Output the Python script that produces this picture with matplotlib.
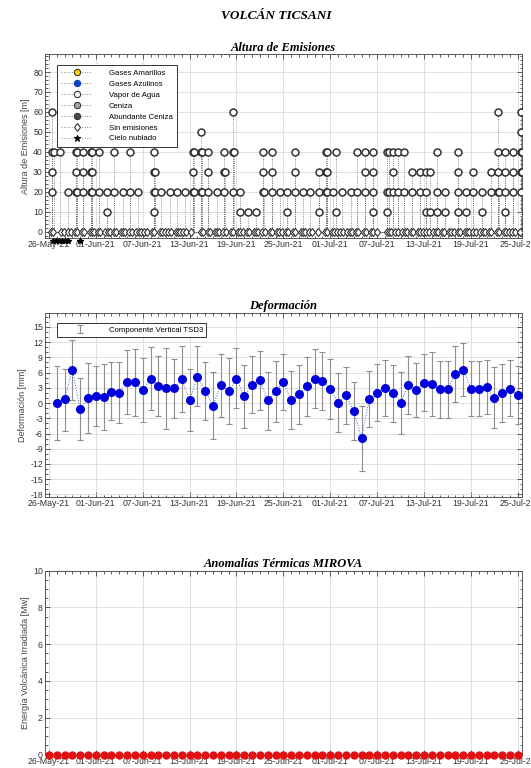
import matplotlib
matplotlib.use('Agg')
from matplotlib import pyplot as plt
from matplotlib.lines import Line2D
from matplotlib.legend_handler import HandlerLine2D
from matplotlib.ticker import MultipleLocator
import matplotlib.dates as mdates
import numpy as np
import pandas as pd

plt.rcParams['font.family'] = ['Liberation Sans', 'DejaVu Sans']
plt.rcParams['axes.unicode_minus'] = False

############ DATOS ############
inicio = pd.Timestamp('2021-05-26')
fechas_ticks = ['2021-05-26', '2021-06-01', '2021-06-07', '2021-06-13', '2021-06-19', '2021-06-25',
                '2021-07-01', '2021-07-07', '2021-07-13', '2021-07-19', '2021-07-25']

# Altura de emisiones: dias desde 26-May (con fraccion horaria) y alturas observadas ese momento
dias_emision = [0.45, 1.43, 2.41, 3.43, 4.42, 5.35, 6.42, 7.4, 8.38, 9.45, 10.42, 11.4, 13.4, 14.4,
                15.5, 16.4, 17.4, 18.4, 19.5, 20.4, 21.5, 22.4, 23.5, 24.45, 25.5, 26.5, 27.4, 28.5,
                29.6, 30.5, 31.5, 32.5, 33.4, 34.5, 35.4, 36.4, 36.7, 37.45, 38.6, 39.45, 40.4, 41.4,
                43.3, 44.05, 44.7, 45.4, 46.4, 47.5, 48.3, 48.8, 49.6, 50.7, 52.4, 53.4, 54.3, 55.4,
                56.6, 57.4, 58.4, 59.4, 60.4]
alturas_emision = [[60, 40, 40, 30, 20], [40], [20], [40, 40, 30, 20, 20], [40, 30, 20],
                   [40, 40, 30, 30, 20, 20], [40, 20], [20, 10], [40, 20], [20], [40, 20], [20],
                   [40, 30, 30, 20, 20, 10], [20], [20], [20], [20], [40, 40, 30, 20, 20],
                   [50, 40, 40, 20, 20], [40, 30, 20], [20], [40, 30, 30, 20], [60, 40, 40, 20],
                   [20, 10], [10], [10], [40, 30, 20, 20], [40, 30, 20], [20], [20, 10], [40, 30, 20],
                   [20], [20], [30, 20, 10], [40, 40, 30, 30, 20, 20], [20], [40, 10], [20], [20],
                   [40, 20], [40, 30, 20], [40, 30, 20, 10], [40, 40, 20, 20, 10], [40, 30, 20],
                   [40, 20], [40, 20], [30, 20], [30, 20], [30, 20, 10], [30, 10], [40, 20, 10],
                   [20, 10], [40, 30, 20, 10], [20, 10], [30, 20], [20, 10], [30, 20],
                   [60, 40, 30, 20, 20], [40, 30, 20, 10], [40, 30, 20], [60, 50, 40, 40, 30, 30, 20]]
dias_sin_emision = [0.3, 0.5, 1.5, 1.9, 2.4, 2.8, 3.3, 3.6, 4.2, 4.5, 5.2, 5.5, 5.8, 6.3, 6.6, 7.2,
                    7.5, 7.8, 8.3, 8.6, 9.2, 9.5, 9.8, 10.3, 10.6, 11.2, 11.5, 11.8, 12.2, 12.6, 13.2,
                    13.5, 14.2, 14.5, 14.8, 15.3, 15.6, 16.2, 16.5, 16.8, 17.2, 17.5, 18.2, 19.4, 19.7,
                    20.3, 20.6, 21.2, 21.5, 21.8, 22.3, 22.6, 23.3, 23.6, 24.2, 24.5, 24.8, 25.3, 25.6,
                    26.2, 26.5, 26.8, 27.3, 27.6, 28.3, 28.6, 29.2, 29.5, 29.8, 30.3, 30.6, 31.2, 31.5,
                    32.2, 32.5, 32.8, 33.3, 33.6, 34.4, 35.3, 35.6, 36.2, 36.5, 36.8, 37.3, 37.6, 38.2,
                    38.5, 38.8, 39.3, 39.6, 40.3, 40.6, 41.2, 41.5, 42.0, 43.2, 43.5, 43.8, 44.3, 44.6,
                    45.2, 45.5, 45.8, 46.3, 46.6, 47.2, 47.5, 47.8, 48.3, 48.6, 49.2, 49.5, 49.8, 50.3,
                    50.6, 51.2, 51.5, 51.8, 52.3, 52.6, 53.2, 53.5, 53.8, 54.3, 54.6, 55.2, 55.5, 55.8,
                    56.3, 56.6, 57.3, 57.6, 58.2, 58.5, 58.8, 59.3, 59.6, 60.3]
dias_nublado = [0.55, 0.9, 1.3, 1.65, 2.05, 2.45, 3.95]

# Deformacion (componente vertical TSD3) y extremos de la barra de error
deformacion = [0.0, 0.8, 6.5, -1.2, 1.0, 1.4, 1.1, 2.2, 2.0, 4.1, 4.1, 2.5, 4.8, 3.4, 2.9, 2.9,
               4.7, 0.5, 5.2, 2.4, -0.5, 3.5, 2.3, 4.8, 1.3, 3.6, 4.5, 0.5, 2.3, 4.1, 0.5, 1.7,
               3.3, 4.8, 4.4, 2.8, 0.1, 1.5, -1.6, -6.9, 0.8, 2.0, 3.0, 2.0, 0.1, 3.6, 2.5, 4.0,
               3.7, 2.7, 2.7, 5.7, 6.6, 2.8, 2.8, 3.2, 0.9, 2.0, 2.8, 1.5]
def_max = [7.3, 6.8, 12.5, 5.0, 7.8, 7.2, 7.6, 8.0, 8.0, 10.5, 10.7, 8.8, 11.1, 9.2, 10.9, 8.7,
           11.2, 6.7, 11.2, 8.1, 6.2, 9.7, 8.8, 10.9, 7.4, 9.3, 10.3, 6.2, 8.2, 9.7, 6.3, 7.5,
           9.0, 10.6, 10.1, 8.7, 5.9, 7.1, 4.1, -0.5, 6.3, 7.7, 8.5, 7.5, 6.2, 9.2, 7.9, 9.6,
           10.0, 8.3, 8.3, 11.2, 11.8, 8.3, 8.3, 8.5, 7.0, 7.7, 8.4, 7.2]
def_min = [-7.2, -5.5, 0.5, -7.3, -5.9, -4.5, -5.4, -3.4, -4.0, -2.1, -2.5, -3.8, -1.3, -2.5, -5.1,
           -3.0, -1.7, -5.6, -0.6, -3.3, -7.1, -2.7, -4.2, -1.0, -4.9, -2.0, -1.4, -5.3, -3.7, -1.4,
           -5.2, -4.1, -2.5, -1.0, -1.4, -3.2, -5.7, -4.1, -7.2, -13.3, -4.8, -3.6, -2.6, -3.7, -6.1,
           -2.1, -2.7, -1.6, -2.5, -2.9, -2.9, 0.3, 1.4, -2.5, -2.5, -2.2, -5.0, -3.7, -2.6, -4.2]
fechas_def = pd.date_range('2021-05-27', '2021-07-25', freq='D')

# MIROVA: energia volcanica irradiada diaria
fechas_mirova = pd.date_range('2021-05-26', '2021-07-25', freq='D')
energia_mirova = [0, 0, 0, 0, 0, 0, 0, 0, 0, 0, 0, 0, 0, 0, 0, 0, 0, 0, 0, 0, 0, 0, 0, 0, 0, 0, 0, 0, 0, 0, 0,
                  0, 0, 0, 0, 0, 0, 0, 0, 0, 0, 0, 0, 0, 0, 0, 0, 0, 0, 0, 0, 0, 0, 0, 0, 0, 0, 0, 0, 0, 0]
################################


x0 = mdates.date2num(inicio)


class MarcadorFinal(HandlerLine2D):
    # marcador al final de la linea, como en la leyenda original
    def get_xdata(self, legend, xdescent, ydescent, width, height, fontsize):
        return [-xdescent, -xdescent + width], [-xdescent + width]


def estilo_eje(ax, ylim, ymayor, ymenor, ylabel):
    ax.set_xlim(x0 - 0.5, x0 + 60.5)
    ax.set_ylim(*ylim)
    ax.yaxis.set_major_locator(MultipleLocator(ymayor))
    ax.yaxis.set_minor_locator(MultipleLocator(ymenor))
    ax.set_xticks(mdates.date2num(pd.to_datetime(fechas_ticks)))
    ax.xaxis.set_major_formatter(mdates.DateFormatter('%d-%b-%y'))
    ax.xaxis.set_minor_locator(mdates.DayLocator())
    ax.tick_params(which='both', direction='in', top=True, right=True, labelsize=6.3,
                   colors='#444444', width=0.6, pad=1.5)
    ax.tick_params(which='major', length=3.5)
    ax.tick_params(which='minor', length=1.8)
    for lab in ax.get_xticklabels() + ax.get_yticklabels():
        lab.set_color('#333333')
    ax.grid(True, which='major', color='#dcdcdc', lw=0.6)
    ax.set_axisbelow(True)
    for s in ax.spines.values():
        s.set_color('#555555')
        s.set_linewidth(0.7)
    ax.set_ylabel(ylabel, fontsize=6.5, color='#444444', labelpad=2)


def titulo(ax, texto):
    ax.set_title(texto, fontsize=9, fontweight='bold', style='italic',
                 family='Liberation Serif', pad=2.5)


fig = plt.figure(figsize=(5.31, 7.68), dpi=100)
fig.text(0.52, 0.979, 'VOLCÁN TICSANI', ha='center', va='center', fontsize=9.5,
         fontweight='bold', style='italic', family='Liberation Serif')

ax1 = fig.add_axes([0.0847, 0.690, 0.898, 0.2396])
ax2 = fig.add_axes([0.0847, 0.3529, 0.898, 0.240])
ax3 = fig.add_axes([0.0847, 0.0175, 0.898, 0.2396])

############ ALTURA DE EMISIONES ############
xs, ys = [], []
for d, hs in zip(dias_emision, alturas_emision):
    vistos = []
    for h in hs:
        dx = 0.15 if h in vistos else 0.0  # repetidos quedan un poco corridos
        vistos.append(h)
        xs.append(x0 + d + dx)
        ys.append(h)
        ax1.plot([x0 + d + dx] * 2, [0, h], ls=':', color='#6a6a6a', lw=0.6, zorder=2)

ax1.plot(x0 + np.array(dias_sin_emision), np.zeros(len(dias_sin_emision)), ls='-', lw=0.5,
         color='#555555', marker='d', mfc='white', mec='#333333', ms=4.5, mew=0.8, zorder=3)
ax1.plot(xs, ys, 'o', mfc='white', mec='#333333', ms=5, mew=1.1, zorder=4)
ax1.plot(x0 + np.array(dias_nublado), np.full(len(dias_nublado), -4.5), '*', color='k', ms=4,
         clip_on=False, zorder=6)

estilo_eje(ax1, (-3.2, 89), 10, 2, 'Altura de Emisiones [m]')
titulo(ax1, 'Altura de Emisiones')

linea = dict(ls=':', color='#8a8a8a', lw=0.7, ms=4.5, mew=0.8)
handles = [
    Line2D([], [], marker='o', mfc='#ffd700', mec='#333333', **linea),
    Line2D([], [], marker='o', mfc='#1040c0', mec='#1040c0', **linea),
    Line2D([], [], marker='o', mfc='white', mec='#333333', **linea),
    Line2D([], [], marker='o', mfc='#a8a8a8', mec='#333333', **linea),
    Line2D([], [], marker='o', mfc='#4a4a4a', mec='#333333', **linea),
    Line2D([], [], marker='d', mfc='white', mec='#333333', **linea),
    Line2D([], [], marker='*', mfc='k', mec='k', **linea),
]
etiquetas = ['Gases Amarillos', 'Gases Azulinos', 'Vapor de Agua', 'Ceniza', 'Abundante Ceniza',
             'Sin emisiones', 'Cielo nublado']
leg = ax1.legend(handles, etiquetas, loc='upper left', bbox_to_anchor=(0.025, 0.94), fontsize=5.6,
                 fancybox=False, edgecolor='#333333', framealpha=1, borderaxespad=0,
                 handlelength=4.0, handletextpad=2.1, labelspacing=0.45, borderpad=0.55,
                 handler_map={Line2D: MarcadorFinal()})
leg.get_frame().set_linewidth(0.7)

############ DEFORMACION ############
deformacion = np.array(deformacion)
err = [deformacion - np.array(def_min), np.array(def_max) - deformacion]
eb = ax2.errorbar(fechas_def, deformacion, yerr=err, fmt='none', ecolor='#8f8f8f', elinewidth=0.8,
                  capsize=2.2, capthick=0.8, zorder=2)
ax2.plot(fechas_def, deformacion, ':', color='#4466cc', lw=0.7, zorder=3)
ax2.plot(fechas_def, deformacion, 'o', color='#0000dd', ms=5.5, zorder=4)
estilo_eje(ax2, (-18.5, 17.8), 3, 1, 'Deformación [mm]')
titulo(ax2, 'Deformación')
leg2 = ax2.legend([eb], ['Componente Vertical TSD3'], loc='upper left', bbox_to_anchor=(0.025, 0.944),
                  fontsize=5.6, fancybox=False, edgecolor='#333333', framealpha=1, borderaxespad=0,
                  handlelength=5, handletextpad=1.2, borderpad=0.45)
leg2.get_frame().set_linewidth(0.7)

############ MIROVA ############
ax3.plot(fechas_mirova, energia_mirova, '-o', color='#e01010', lw=0.8, ms=5, clip_on=False, zorder=5)
estilo_eje(ax3, (0, 10), 2, 0.5, 'Energía Volcánica Irradiada [Mw]')
titulo(ax3, 'Anomalías Térmicas MIROVA')

fig.savefig('out.png', dpi=100)
